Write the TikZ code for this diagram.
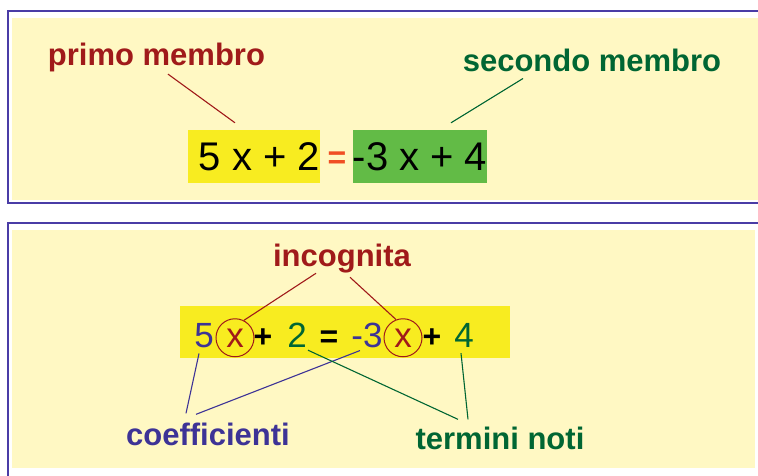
\documentclass[tikz,border=0pt]{standalone}
\usepackage{fontspec}
\setmainfont{Liberation Sans}
\definecolor{panelfill}{RGB}{255,248,195}
\definecolor{panelline}{RGB}{74,60,166}
\definecolor{darkred}{RGB}{160,26,26}
\definecolor{darkgreen}{RGB}{0,102,51}
\definecolor{coefblue}{RGB}{61,51,150}
\definecolor{hiyellow}{RGB}{248,236,32}
\definecolor{boxgreen}{RGB}{98,187,70}
\definecolor{eqorange}{RGB}{240,78,35}

\begin{document}
\begin{tikzpicture}[x=1pt,y=-1pt]
    \tikzset{tag/.style={font=\fontsize{31}{37}\selectfont\bfseries, inner sep=0pt, anchor=base}}
    \tikzset{big/.style={font=\fontsize{40}{48}\selectfont, inner sep=0pt}}
    \tikzset{sym/.style={font=\fontsize{35}{42}\selectfont, inner sep=0pt, anchor=base}}
    \tikzset{symb/.style={sym, font=\fontsize{32}{40}\selectfont\bfseries}}
    \tikzset{ring/.style={sym, circle, draw=darkred, text=darkred, minimum size=38pt, line width=1pt}}
    \tikzset{link/.style={line width=1.1pt}}
    \useasboundingbox (0,0) rectangle (758,476);
    % panels
    \fill[panelfill] (12,18) rectangle (758,200);
    \draw[panelline, line width=2.5pt] (758,11) -- (8,11) -- (8,203) -- (758,203);
    \fill[panelfill] (12,230) rectangle (755,468);
    \draw[panelline, line width=2.5pt] (758,223) -- (8,223) -- (8,476);
    % primo e secondo membro
    \node[big, fill=hiyellow, minimum width=132pt, minimum height=53pt] (left) at (254,156.5) {\ 5 x + 2};
    \node[big, fill=boxgreen, minimum width=132pt, minimum height=53pt] (right) at (420,156.5) {-3 x + 4};
    \node[big, font=\fontsize{32}{40}\selectfont\bfseries, text=eqorange] (eq) at (337,160) {=};
    \node[tag, text=darkred] (first) at (156.5,66) {primo membro};
    \node[tag, text=darkgreen] (second) at (592,72) {secondo membro};
    \draw[link, darkred] ([xshift=11.5pt,yshift=-1.5pt]first.south) -- ([xshift=-19pt,yshift=7pt]left.north);
    \draw[link, darkgreen] ([xshift=-69pt,yshift=-6pt]second.south) -- ([xshift=31pt,yshift=7pt]right.north);
    % incognita, coefficienti, termini noti
    \fill[hiyellow] (180,306) rectangle (510,358);
    \node[sym, text=coefblue] (c1) at (204,347) {5};
    \node[ring] (x1) at (235,347) {x};
    \node[symb] (p1) at (263,347) {+};
    \node[sym, text=darkgreen] (t1) at (297,347) {2};
    \node[symb] (eq2) at (329,347) {=};
    \node[sym, text=coefblue] (c2) at (367,347) {-3};
    \node[ring] (x2) at (403,347) {x};
    \node[symb] (p2) at (432,347) {+};
    \node[sym, text=darkgreen] (t2) at (464,347) {4};
    \node[tag, text=darkred] (unknown) at (342,266) {incognita};
    \node[tag, text=coefblue] (coef) at (208,445) {coefficienti};
    \node[tag, text=darkgreen] (known) at (500,449) {termini noti};
    \draw[link, darkred] ([xshift=-26pt,yshift=-0.5pt]unknown.south) -- (x1.63);
    \draw[link, darkred] ([xshift=8pt,yshift=-4.5pt]unknown.south) -- (x2.111);
    \draw[link, coefblue] ([xshift=-5pt,yshift=-6pt]c1.south) -- ([xshift=-22pt,yshift=9pt]coef.north);
    \draw[link, coefblue] ([xshift=-7pt,yshift=-3pt]c2.south) -- ([xshift=-12pt,yshift=8pt]coef.north);
    \draw[link, darkgreen] ([xshift=11pt,yshift=-3pt]t1.south) -- ([xshift=-42pt,yshift=7pt]known.north);
    \draw[link, darkgreen] ([xshift=-3pt,yshift=-6pt]t2.south) -- ([xshift=-32pt,yshift=7pt]known.north);
\end{tikzpicture}
\end{document}
